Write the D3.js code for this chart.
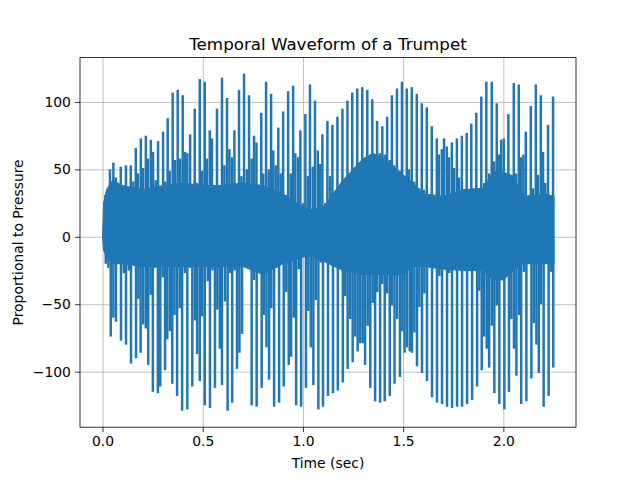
<!DOCTYPE html>
<html>
<head>
<meta charset="utf-8">
<script src="https://cdn.jsdelivr.net/npm/d3@7"></script>
<style>
  body { margin: 0; background: #fff; }
  text { font-family: "DejaVu Sans", sans-serif; fill: #000; }
</style>
</head>
<body>
<div id="main"></div>
<script>
// upper spike tips (time in sec, value)
const upperT = [0.014, 0.027, 0.037, 0.054, 0.066, 0.079, 0.091, 0.104, 0.117, 0.129, 0.141, 0.154, 0.166, 0.177, 0.191, 0.202, 0.216, 0.227, 0.241, 0.252,
  0.265, 0.277, 0.288, 0.302, 0.313, 0.325, 0.335, 0.350, 0.362, 0.375, 0.387, 0.400, 0.412, 0.423, 0.437, 0.448, 0.460, 0.470, 0.485, 0.497,
  0.510, 0.521, 0.535, 0.546, 0.558, 0.571, 0.583, 0.596, 0.608, 0.621, 0.633, 0.645, 0.658, 0.670, 0.681, 0.693, 0.706, 0.720, 0.731,
  0.744, 0.756, 0.768, 0.781, 0.792, 0.802, 0.816, 0.829, 0.841, 0.852, 0.864, 0.877, 0.889, 0.901, 0.914, 0.926, 0.939, 0.951, 0.962, 0.976,
  0.987, 1.000, 1.012, 1.024, 1.035, 1.049, 1.060, 1.074, 1.086, 1.097, 1.112, 1.122, 1.135, 1.147, 1.160, 1.172, 1.185, 1.197, 1.210, 1.222,
  1.233, 1.246, 1.258, 1.271, 1.283, 1.296, 1.308, 1.321, 1.333, 1.346, 1.358, 1.370, 1.383, 1.396, 1.408, 1.420, 1.433, 1.444, 1.456, 1.469,
  1.483, 1.494, 1.506, 1.518, 1.529, 1.543, 1.554, 1.568, 1.579, 1.593, 1.604, 1.618, 1.629, 1.643, 1.654, 1.668, 1.678, 1.693, 1.704, 1.718,
  1.729, 1.743, 1.754, 1.768, 1.779, 1.793, 1.804, 1.817, 1.829, 1.840, 1.854, 1.865, 1.879, 1.890, 1.904, 1.915, 1.929, 1.942, 1.954, 1.967,
  1.979, 1.989, 2.002, 2.014, 2.025, 2.038, 2.052, 2.063, 2.077, 2.088, 2.100, 2.112, 2.125, 2.137, 2.148, 2.162, 2.173, 2.187, 2.198, 2.209,
  2.223, 2.234, 2.248];
const upperV = [31, 16, 50, 55, 44, 34, 52, 30, 53, 35, 53, 41, 66, 47, 73, 51, 75, 58, 72, 63,
  42, 71, 34, 78, 41, 88, 49, 107, 57, 109, 58, 105, 63, 62, 76, 29, 95, 40, 117, 49,
  115, 58, 79, 73, 25, 95, 37, 118, 53, 103, 65, 59, 79, 29, 109, 45, 121, 50, 105,
  58, 75, 70, 23, 92, 47, 115, 50, 106, 64, 53, 81, 47, 93, 31, 108, 47, 112, 62, 59,
  79, 25, 91, 45, 113, 52, 101, 64, 54, 76, 25, 86, 45, 83, 25, 89, 30, 95, 36, 101,
  40, 107, 42, 110, 44, 111, 47, 109, 54, 102, 59, 86, 62, 82, 61, 89, 57, 105, 53, 110,
  49, 115, 45, 110, 50, 111, 41, 106, 36, 99, 35, 96, 29, 82, 23, 73, 61, 65, 73, 67,
  59, 70, 51, 73, 44, 75, 34, 77, 21, 84, 25, 92, 32, 104, 40, 115, 47, 115, 56, 99,
  61, 72, 73, 22, 91, 46, 114, 47, 113, 59, 61, 78, 25, 97, 36, 113, 46, 105, 63, 40,
  83, 28, 104];

// lower spike tips (time in sec, value)
const lowerT = [0.016, 0.029, 0.041, 0.054, 0.067, 0.092, 0.106, 0.117, 0.131, 0.142, 0.155, 0.167, 0.179, 0.190, 0.203, 0.216, 0.228, 0.240,
  0.251, 0.263, 0.276, 0.288, 0.300, 0.312, 0.323, 0.336, 0.348, 0.359, 0.372, 0.385, 0.397, 0.411, 0.423, 0.436, 0.448, 0.461, 0.472,
  0.485, 0.497, 0.510, 0.525, 0.536, 0.549, 0.561, 0.573, 0.585, 0.596, 0.611, 0.624, 0.635, 0.647, 0.659, 0.671, 0.683, 0.696,
  0.744, 0.756, 0.769, 0.794, 0.806, 0.818, 0.831, 0.842, 0.856, 0.867, 0.881, 0.904, 0.917, 0.929, 0.941, 0.954, 0.966, 0.979, 0.991,
  1.015, 1.027, 1.039, 1.052, 1.064, 1.077, 1.089, 1.100, 1.125, 1.150, 1.174, 1.199, 1.211, 1.223, 1.236, 1.248, 1.261, 1.273, 1.286,
  1.298, 1.310, 1.323, 1.336, 1.348, 1.371, 1.360, 1.396, 1.385, 1.408, 1.420, 1.433, 1.445, 1.457, 1.470, 1.484, 1.496, 1.507, 1.519,
  1.533, 1.544, 1.556, 1.569, 1.581, 1.594, 1.606, 1.619, 1.632, 1.644, 1.669, 1.681, 1.694, 1.706, 1.719, 1.730, 1.744, 1.756, 1.769,
  1.781, 1.794, 1.819, 1.844, 1.869, 1.880, 1.892, 1.904, 1.917, 1.929, 1.942, 1.955, 1.967, 1.980, 1.992, 2.005, 2.028, 2.040, 2.053,
  2.065, 2.078, 2.089, 2.103, 2.115, 2.140, 2.152, 2.165, 2.177, 2.188, 2.201, 2.226, 2.238, 2.249];
const lowerV = [-20, -23, -74, -60, -63, -77, -27, -80, -25, -94, -17, -90, -46, -86, -65, -68, -95, -43,
  -115, -23, -116, -111, -30, -99, -76, -70, -109, -58, -118, -53, -129, -27, -128, -23, -111, -62, -87,
  -107, -59, -125, -33, -127, -25, -112, -54, -83, -110, -48, -129, -27, -123, -25, -98, -86, -72,
  -125, -32, -126, -112, -58, -82, -106, -53, -126, -23, -123, -111, -41, -95, -89, -60, -125, -24, -126,
  -112, -55, -82, -110, -47, -128, -19, -126, -118, -116, -114, -108, -44, -98, -61, -93, -74, -85, -79,
  -79, -95, -66, -112, -49, -41, -122, -35, -123, -122, -42, -118, -51, -109, -61, -104, -70, -86, -82,
  -85, -86, -71, -96, -52, -101, -42, -107, -19, -119, -123, -29, -124, -24, -126, -27, -127, -23, -126,
  -19, -126, -124, -121, -111, -40, -99, -74, -83, -97, -66, -116, -51, -124, -30, -128, -115, -61, -83,
  -103, -58, -124, -26, -122, -105, -64, -80, -101, -50, -126, -118, -26, -97];

// dense body of the waveform: upper and lower edge
const bandT = [0, 0.005, 0.02, 0.05, 0.1, 0.2, 0.3, 0.4, 0.5, 0.6, 0.7, 0.8, 0.9, 1.0, 1.05, 1.1, 1.2, 1.3, 1.35, 1.4, 1.5, 1.55, 1.6, 1.7, 1.8, 1.9, 1.95, 2.0, 2.05, 2.1, 2.2, 2.253];
const bandTop = [0, 25, 35, 42, 38, 35, 38, 40, 38, 38, 40, 38, 32, 22, 20, 22, 42, 58, 62, 58, 46, 40, 32, 30, 35, 36, 48, 48, 45, 30, 32, 30];
const bandBottom = [0, -10, -15, -20, -20, -22, -22, -22, -22, -22, -22, -28, -20, -15, -14, -18, -25, -28, -28, -28, -28, -22, -22, -24, -25, -25, -32, -32, -25, -20, -20, -20];

// axis limits and ticks
const xLimits = [-0.1125, 2.3625];
const yLimits = [-141.2, 132.9];
const xTicks = [0.0, 0.5, 1.0, 1.5, 2.0];
const yTicks = [-100, -50, 0, 50, 100];

function main() {
  const width = 640;
  const height = 480;
  const left = 80;
  const right = 576;
  const top = 57.6;
  const bottom = 427.2;
  const blue = '#1f77b4';

  const xScale = d3.scaleLinear().domain(xLimits).range([left, right]);
  const yScale = d3.scaleLinear().domain(yLimits).range([bottom, top]);

  const svg = d3.select('#main')
    .append('svg')
    .attr('width', width)
    .attr('height', height);

  // grid
  svg.append('g')
    .attr('transform', `translate(0, ${bottom})`)
    .call(d3.axisBottom(xScale).tickValues(xTicks).tickSize(-(bottom - top)).tickFormat(''))
    .call(g => g.select('.domain').remove())
    .call(g => g.selectAll('line').attr('stroke', '#b0b0b0').attr('stroke-width', 0.8));
  svg.append('g')
    .attr('transform', `translate(${left}, 0)`)
    .call(d3.axisLeft(yScale).tickValues(yTicks).tickSize(-(right - left)).tickFormat(''))
    .call(g => g.select('.domain').remove())
    .call(g => g.selectAll('line').attr('stroke', '#b0b0b0').attr('stroke-width', 0.8));

  const plot = svg.append('g');

  // dense body
  const band = bandT.map((t, i) => ({ t, hi: bandTop[i], lo: bandBottom[i] }));
  plot.append('path')
    .datum(band)
    .attr('fill', blue)
    .attr('stroke', blue)
    .attr('stroke-width', 1)
    .attr('d', d3.area().x(d => xScale(d.t)).y0(d => yScale(d.lo)).y1(d => yScale(d.hi)));

  // spikes
  const spikes = upperT.map((t, i) => ({ t, v: upperV[i] }))
    .concat(lowerT.map((t, i) => ({ t, v: lowerV[i] })));
  plot.selectAll('line.spike')
    .data(spikes)
    .enter()
    .append('line')
    .classed('spike', true)
    .attr('x1', d => xScale(d.t))
    .attr('x2', d => xScale(d.t))
    .attr('y1', yScale(0))
    .attr('y2', d => yScale(d.v))
    .attr('stroke', blue)
    .attr('stroke-width', 2.5);

  // axes
  const xAxis = svg.append('g')
    .attr('transform', `translate(0, ${bottom})`)
    .call(d3.axisBottom(xScale).tickValues(xTicks).tickSizeOuter(0).tickSize(4.9).tickPadding(4.2).tickFormat(d3.format('.1f')));
  const yAxis = svg.append('g')
    .attr('transform', `translate(${left}, 0)`)
    .call(d3.axisLeft(yScale).tickValues(yTicks).tickSizeOuter(0).tickSize(4.9).tickPadding(4.2));
  [xAxis, yAxis].forEach(g => {
    g.select('.domain').remove();
    g.selectAll('line').attr('stroke', '#000').attr('stroke-width', 0.8);
    g.selectAll('text').style('font-size', '13.9px').style('font-family', '"DejaVu Sans", sans-serif').attr('fill', '#000');
  });

  // frame
  svg.append('rect')
    .attr('x', left)
    .attr('y', top)
    .attr('width', right - left)
    .attr('height', bottom - top)
    .attr('fill', 'none')
    .attr('stroke', '#000')
    .attr('stroke-width', 0.8);

  // title
  svg.append('text')
    .attr('x', (left + right) / 2)
    .attr('y', 49.5)
    .style('font-size', '16.7px')
    .style('text-anchor', 'middle')
    .text('Temporal Waveform of a Trumpet');

  // x axis label
  svg.append('text')
    .attr('x', (left + right) / 2)
    .attr('y', 468)
    .style('font-size', '13.9px')
    .style('text-anchor', 'middle')
    .text('Time (sec)');

  // y axis label
  svg.append('text')
    .attr('transform', 'rotate(-90)')
    .attr('x', -(top + bottom) / 2)
    .attr('y', 23)
    .style('font-size', '13.9px')
    .style('text-anchor', 'middle')
    .text('Proportional to Pressure');
}

main();
</script>
</body>
</html>
